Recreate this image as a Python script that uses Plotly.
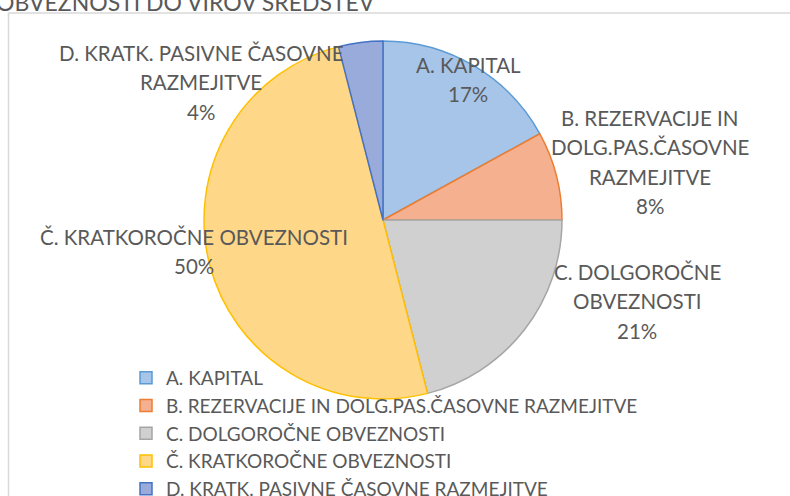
import plotly.graph_objects as go

categories = [
    "A. KAPITAL",
    "B. REZERVACIJE IN DOLG.PAS.ČASOVNE RAZMEJITVE",
    "C. DOLGOROČNE OBVEZNOSTI",
    "Č. KRATKOROČNE OBVEZNOSTI",
    "D. KRATK. PASIVNE ČASOVNE RAZMEJITVE",
]
values = [17, 8, 21, 50, 4]
# how each data label is broken into lines (as in the reference)
label_lines = [
    ["A. KAPITAL"],
    ["B. REZERVACIJE IN", "DOLG.PAS.ČASOVNE", "RAZMEJITVE"],
    ["C. DOLGOROČNE", "OBVEZNOSTI"],
    ["Č. KRATKOROČNE OBVEZNOSTI"],
    ["D. KRATK. PASIVNE ČASOVNE", "RAZMEJITVE"],
]
title_text = "OBVEZNOSTI DO VIROV SREDSTEV"

fill_colors = ["#A7C5E8", "#F4B08F", "#D0D0D0", "#FFD789", "#98ABDB"]
line_colors = ["#5B9BD5", "#ED7D31", "#A5A5A5", "#FFC000", "#4472C4"]

W, H = 790, 496
FONT = "Lato"
TXT = "#595959"
FS = 20.5
LFS = 19

fig = go.Figure()
fig.add_trace(go.Pie(
    labels=categories,
    values=values,
    sort=False,
    direction="clockwise",
    rotation=0,
    textinfo="none",
    hoverinfo="label+percent",
    marker=dict(colors=fill_colors, line=dict(color=line_colors, width=1.5)),
    domain=dict(x=[204 / W, 562 / W], y=[1 - 399 / H, 1 - 41 / H]),
))

# data label anchor centres (pixels) and line spacing
label_centers = [(468, 65), (650, 118), (637, 272), (194, 237), (201, 53)]
LS = 29.3
total = sum(values)
annotations = []
for lines, v, (cx, cy) in zip(label_lines, values, label_centers):
    pct = f"{round(100 * v / total)}%"
    for i, t in enumerate(lines + [pct]):
        annotations.append(dict(
            x=cx / W, y=1 - (cy + i * LS) / H, xref="paper", yref="paper",
            text=t, showarrow=False, xanchor="center", yanchor="middle",
            font=dict(family=FONT, size=FS, color=TXT),
        ))

annotations.append(dict(
    x=-6 / W, y=1 - 18 / H, xref="paper", yref="paper", text=title_text,
    showarrow=False, xanchor="left", yanchor="bottom",
    font=dict(family=FONT, size=23, color=TXT),
))

fig.update_layout(
    width=W, height=H,
    margin=dict(l=0, r=0, t=0, b=0, autoexpand=False),
    paper_bgcolor="white", plot_bgcolor="white",
    font=dict(family=FONT, size=FS, color=TXT),
    showlegend=True,
    legend=dict(
        x=126 / W, y=1 - 359 / H, xanchor="left", yanchor="top",
        font=dict(family=FONT, size=LFS, color=TXT),
        bgcolor="rgba(0,0,0,0)", borderwidth=0,
        tracegroupgap=0,
    ),
    annotations=annotations,
    shapes=[dict(
        type="rect", xref="paper", yref="paper",
        x0=8.5 / W, x1=1.05, y0=-0.05, y1=1 - 13 / H,
        line=dict(color="#D9D9D9", width=1.5), layer="below",
    )],
)

fig.write_html(
    "out.html",
    config={"displayModeBar": False},
    post_script="document.body.style.margin='0';document.body.style.overflow='hidden';",
)
